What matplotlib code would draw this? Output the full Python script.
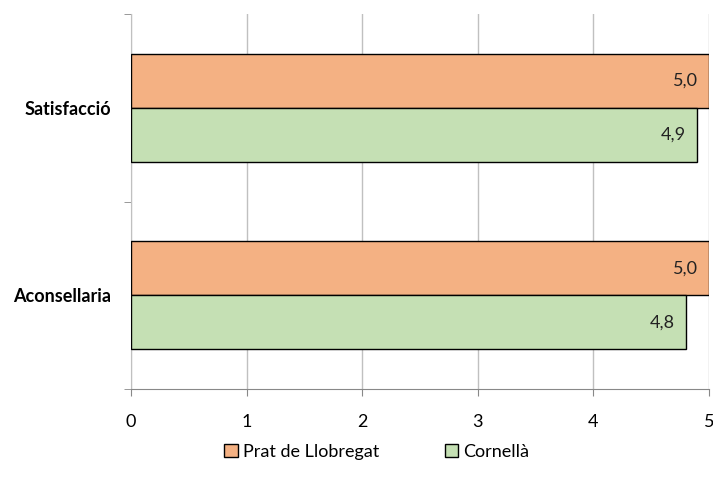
import matplotlib
matplotlib.use("Agg")
import matplotlib.pyplot as plt
import numpy as np
from matplotlib.patches import Patch
from matplotlib.transforms import offset_copy

plt.rcParams['font.family'] = ['Lato', 'DejaVu Sans']

categories = ["Aconsellaria", "Satisfacció"]
series_names = ["Prat de Llobregat", "Cornellà"]
prat = [5.0, 5.0]
cornella = [4.8, 4.9]
colors = ["#F4B183", "#C5E0B4"]
xticks = [0, 1, 2, 3, 4, 5]

fs = 13
fig = plt.figure(figsize=(7.13, 4.86), dpi=100)
ax = fig.add_axes([131/713, 1-389/486, 578/713, 375/486])

y = np.arange(len(categories))
h = 0.288
b1 = ax.barh(y + h/2, prat, height=h, color=colors[0], edgecolor="black", linewidth=1, zorder=3)
b2 = ax.barh(y - h/2, cornella, height=h, color=colors[1], edgecolor="black", linewidth=1, zorder=3)

for bars, vals in ((b1, prat), (b2, cornella)):
    for bar, v in zip(bars, vals):
        tr = offset_copy(ax.transData, fig=fig, x=-8, y=0, units='points')
        ax.text(v, bar.get_y() + bar.get_height()/2, f"{v:.1f}".replace(".", ","),
                ha="right", va="center", fontsize=fs, color="#222222", transform=tr, zorder=4)

ax.set_xlim(0, 5)
ax.set_ylim(-0.5, 1.5)
ax.set_xticks(xticks)
ax.set_xticklabels([str(t) for t in xticks], fontsize=fs)
ax.set_yticks(y)
ax.set_yticklabels(categories, fontsize=fs, fontweight="bold")
ax.tick_params(axis="y", length=0, pad=14)
ax.set_yticks([-0.5, 0.5, 1.5], minor=True)
ax.tick_params(axis="y", which="minor", length=5, color="#888888")
ax.tick_params(axis="x", length=5, color="#888888", pad=13)
ax.grid(axis="x", color="#c0c0c0", linewidth=1, zorder=0)
for s in ["top", "right"]:
    ax.spines[s].set_visible(False)
ax.spines["left"].set_color("#c0c0c0")
ax.spines["bottom"].set_color("#888888")

handles = [Patch(facecolor=c, edgecolor="black", label=n) for c, n in zip(colors, series_names)]
fig.legend(handles=handles, loc="center", bbox_to_anchor=(377/713, 1-452/486), ncol=2,
           frameon=False, fontsize=fs, handlelength=0.75, handleheight=0.75,
           handletextpad=0.3, columnspacing=3.6)

fig.savefig("out.png", dpi=100)
